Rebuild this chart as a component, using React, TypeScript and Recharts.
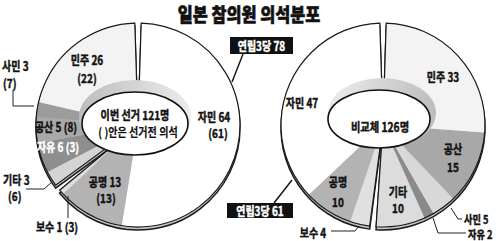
import React from 'react';
import { PieChart, Pie, Cell } from 'recharts';

// ---- data ----
const titleText = '일본 참의원 의석분포';
const coalitionName = '연립3당';
const leftParties = ['자민', '공명', '보수', '기타', '자유', '공산', '사민', '민주'];
const leftSeats = [64, 13, 1, 3, 6, 5, 3, 26];
const leftPrevSeats = [61, 13, 3, 6, 3, 8, 7, 22];
const rightParties = ['자민', '공명', '보수', '기타', '자유', '사민', '공산', '민주'];
const rightSeats = [47, 10, 4, 10, 2, 5, 15, 33];
const coalitionParties = ['자민', '공명', '보수'];

// ---- styles ----
const leftFill: Record<string, string> = {
  자민: '#ffffff', 공명: '#b3b3b3', 보수: '#dedede', 기타: '#d4d4d4',
  자유: '#8e8e8e', 공산: '#a9a9a9', 사민: '#9c9c9c', 민주: '#f3f3f3',
};
const rightFill: Record<string, string> = {
  자민: '#ffffff', 공명: '#b3b3b3', 보수: '#e0e0e0', 기타: '#dcdcdc',
  자유: '#8a8a8a', 사민: '#d8d8d8', 공산: '#a8a8a8', 민주: '#f3f3f3',
};
const FONT = "'Noto Sans CJK KR', 'Noto Sans', sans-serif";
const GAP = 1.8;

type Row = { name: string; value: number; prev?: number };

function buildDonut(parties: string[], seats: number[], prev?: number[]) {
  const rows: Row[] = parties.map((name, i) => ({ name, value: seats[i], prev: prev ? prev[i] : undefined }));
  const coalition = rows.filter((r) => coalitionParties.includes(r.name));
  const opposition = rows.filter((r) => !coalitionParties.includes(r.name));
  const total = rows.reduce((a, r) => a + r.value, 0);
  const coalitionTotal = coalition.reduce((a, r) => a + r.value, 0);
  return { rows, coalition, opposition, total, coalitionTotal };
}

function ranges(dir: number, coalitionTotal: number, total: number) {
  const span = (360 * coalitionTotal) / total;
  return {
    coal: { start: 90 + dir * GAP, end: 90 + dir * (span - GAP) },
    opp: { start: 90 + dir * (span + GAP), end: 90 + dir * (360 - GAP) },
  };
}

const left = buildDonut(leftParties, leftSeats, leftPrevSeats);
const right = buildDonut(rightParties, rightSeats);
const leftR = ranges(-1, left.coalitionTotal, left.total);
const rightR = ranges(1, right.coalitionTotal, right.total);

type D = ReturnType<typeof buildDonut>;
const get = (d: D, name: string) => d.rows.find((r) => r.name === name)!;
const lab = (d: D, name: string) => `${name} ${get(d, name).value}`;
const prv = (d: D, name: string) => `(${get(d, name).prev})`;
const both = (d: D, name: string) => `${lab(d, name)} ${prv(d, name)}`;

const T = ({ x, y, children, size = 12.5, sx = 0.8, anchor = 'middle', fill = '#111', weight = 700, bold = 0.45 }: any) => (
  <text
    transform={`translate(${x},${y}) scale(${sx},1)`}
    textAnchor={anchor}
    dominantBaseline="central"
    fontSize={size}
    fontWeight={weight}
    fill={fill}
    stroke={bold > 0 ? fill : 'none'}
    strokeWidth={bold}
    fontFamily={FONT}
  >
    {children}
  </text>
);

const L = { cx: 138, cy: 125 };
const RD = { cx: 383, cy: 125 };
const OUT = 102;
const IN = 16;

function donutPies(d: D, r: ReturnType<typeof ranges>, c: { cx: number; cy: number }, fills: Record<string, string>, key: string) {
  const groups = [
    { data: d.coalition, rg: r.coal, sum: d.coalitionTotal },
    { data: d.opposition, rg: r.opp, sum: d.total - d.coalitionTotal },
  ];
  const out: any[] = [];
  groups.forEach((g, gi) => {
    out.push(
      <Pie key={`${key}-sh-${gi}`} data={[{ name: 'g', value: g.sum }]} dataKey="value" cx={c.cx} cy={c.cy + 3}
        innerRadius={IN} outerRadius={OUT} startAngle={g.rg.start} endAngle={g.rg.end}
        fill="#c4c4c4" stroke="#1a1a1a" strokeWidth={1.5} isAnimationActive={false} />
    );
  });
  groups.forEach((g, gi) => {
    out.push(
      <Pie key={`${key}-d-${gi}`} data={g.data} dataKey="value" cx={c.cx} cy={c.cy}
        innerRadius={IN} outerRadius={OUT} startAngle={g.rg.start} endAngle={g.rg.end}
        stroke="none" isAnimationActive={false}>
        {g.data.map((row) => (
          <Cell key={row.name} fill={fills[row.name]} />
        ))}
      </Pie>
    );
  });
  groups.forEach((g, gi) => {
    out.push(
      <Pie key={`${key}-o-${gi}`} data={[{ name: 'g', value: g.sum }]} dataKey="value" cx={c.cx} cy={c.cy}
        innerRadius={IN} outerRadius={OUT} startAngle={g.rg.start} endAngle={g.rg.end}
        fill="none" stroke="#1a1a1a" strokeWidth={1.2} isAnimationActive={false} />
    );
  });
  return out;
}

export default function App() {
  const line = { stroke: '#222', strokeWidth: 1, fill: 'none' };
  return (
    <div style={{ position: 'absolute', left: 0, top: 0, width: 500, height: 241, background: '#fff', overflow: 'hidden' }}>
      <PieChart width={500} height={241} margin={{ top: 0, right: 0, bottom: 0, left: 0 }}>
        {donutPies(left, leftR, L, leftFill, 'L')}
        {donutPies(right, rightR, RD, rightFill, 'R')}
      </PieChart>
      <svg width={500} height={241} style={{ position: 'absolute', left: 0, top: 0, pointerEvents: 'none' }}>
        <defs>
          <linearGradient id="wallL" x1="0" y1="0" x2="1" y2="0">
            <stop offset="0" stopColor="#bdbdbd" />
            <stop offset="1" stopColor="#ececec" />
          </linearGradient>
          <linearGradient id="wallR" x1="0" y1="0" x2="1" y2="0">
            <stop offset="0" stopColor="#ececec" />
            <stop offset="1" stopColor="#bdbdbd" />
          </linearGradient>
        </defs>
        {/* inner holes */}
        <ellipse cx={135} cy={117} rx={56} ry={37} fill="url(#wallL)" />
        <ellipse cx={135} cy={123.5} rx={53} ry={31.5} fill="#fff" stroke="#111" strokeWidth={1.6} />
        <ellipse cx={382} cy={113} rx={54} ry={35} fill="url(#wallR)" />
        <ellipse cx={379} cy={119} rx={51} ry={29} fill="#fff" stroke="#111" strokeWidth={1.6} />

        {/* title */}
        <T x={249} y={13} size={19} sx={0.86} weight={900} bold={0.6}>{titleText}</T>

        {/* centre texts */}
        <T x={135} y={115} size={12} sx={0.84}>{`이번 선거 ${left.total}명`}</T>
        <T x={138} y={132} size={12} sx={0.84} bold={0.2}>( )안은 선거전 의석</T>
        <T x={380} y={127} size={12.5} sx={0.82}>{`비교체 ${right.total}명`}</T>

        {/* left labels */}
        <T x={87} y={59}>{lab(left, '민주')}</T>
        <T x={87} y={77}>{prv(left, '민주')}</T>
        <T x={2} y={65} anchor="start">{lab(left, '사민')}</T>
        <T x={3} y={82} anchor="start">{prv(left, '사민')}</T>
        <polyline points="13,90 13,106 34,106" {...line} />
        <T x={56} y={126}>{both(left, '공산')}</T>
        <T x={58} y={146} fill="#fff">{both(left, '자유')}</T>
        <T x={3} y={179} anchor="start">{lab(left, '기타')}</T>
        <T x={8} y={195} anchor="start">{prv(left, '기타')}</T>
        <polyline points="26,189 44,189 52,182" {...line} />
        <T x={57} y={226}>{both(left, '보수')}</T>
        <line x1={68} y1={196} x2={68} y2={218} {...line} />
        <T x={105} y={181}>{lab(left, '공명')}</T>
        <T x={106} y={197}>{prv(left, '공명')}</T>
        <T x={214} y={116}>{lab(left, '자민')}</T>
        <T x={218} y={132}>{prv(left, '자민')}</T>

        {/* coalition boxes */}
        <rect x={230} y={37} width={63} height={17} fill="#111" />
        <T x={261.5} y={45.5} fill="#fff" sx={0.8}>{`${coalitionName} ${left.coalitionTotal}`}</T>
        <line x1={243} y1={54} x2={232} y2={82} stroke="#111" strokeWidth={1.4} />
        <rect x={227} y={203} width={66} height={15} fill="#111" />
        <T x={260} y={210.5} fill="#fff" sx={0.8}>{`${coalitionName} ${right.coalitionTotal}`}</T>
        <line x1={274} y1={203} x2={292} y2={180} stroke="#111" strokeWidth={1.4} />

        {/* right labels */}
        <T x={302} y={102}>{lab(right, '자민')}</T>
        <T x={443} y={76}>{lab(right, '민주')}</T>
        <T x={453} y={148}>공산</T>
        <T x={453} y={166}>{get(right, '공산').value}</T>
        <T x={398} y={191}>기타</T>
        <T x={398} y={207}>{get(right, '기타').value}</T>
        <T x={338} y={181}>공명</T>
        <T x={338} y={201}>{get(right, '공명').value}</T>
        <T x={464} y={219} size={11.5} anchor="start">{lab(right, '사민')}</T>
        <polyline points="451,208 458,219 462,219" {...line} />
        <T x={468} y={234} size={11.5} anchor="start">{lab(right, '자유')}</T>
        <polyline points="433,218 438,233 466,233" {...line} />
        <T x={313} y={232}>{lab(right, '보수')}</T>
        <polyline points="331,231 355,231 359,226" {...line} />
      </svg>
    </div>
  );
}
